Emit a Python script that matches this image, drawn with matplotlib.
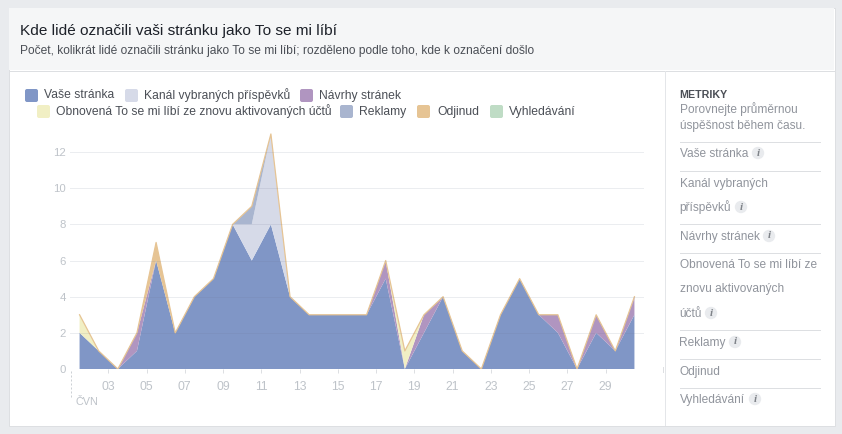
import matplotlib
matplotlib.use("Agg")
import matplotlib.pyplot as plt
from matplotlib.patches import Circle, FancyBboxPatch, Rectangle

plt.rcParams['font.family'] = ['Liberation Sans', 'DejaVu Sans']

# one value per day, points sit half way between the day ticks
days = [1.5, 2.5, 3.5, 4.5, 5.5, 6.5, 7.5, 8.5, 9.5, 10.5, 11.5, 12.5, 13.5, 14.5, 15.5,
        16.5, 17.5, 18.5, 19.5, 20.5, 21.5, 22.5, 23.5, 24.5, 25.5, 26.5, 27.5, 28.5, 29.5, 30.5]
vase = [2, 1, 0, 1, 6, 2, 4, 5, 8, 6, 8, 4, 3, 3, 3, 3, 5, 0, 2, 4, 1, 0, 3, 5, 3, 2, 0, 2, 1, 3]
kanal = [0, 0, 0, 0, 0, 0, 0, 0, 0, 2, 5, 0, 0, 0, 0, 0, 0, 0, 0, 0, 0, 0, 0, 0, 0, 0, 0, 0, 0, 0]
navrhy = [0, 0, 0, 1, 0, 0, 0, 0, 0, 0, 0, 0, 0, 0, 0, 0, 1, 0, 1, 0, 0, 0, 0, 0, 0, 1, 0, 1, 0, 1]
obnovena = [1, 0, 0, 0, 0, 0, 0, 0, 0, 0, 0, 0, 0, 0, 0, 0, 0, 1, 0, 0, 0, 0, 0, 0, 0, 0, 0, 0, 0, 0]
reklamy = [0, 0, 0, 0, 0, 0, 0, 0, 0, 1, 0, 0, 0, 0, 0, 0, 0, 0, 0, 0, 0, 0, 0, 0, 0, 0, 0, 0, 0, 0]
odjinud = [0, 0, 0, 0, 1, 0, 0, 0, 0, 0, 0, 0, 0, 0, 0, 0, 0, 0, 0, 0, 0, 0, 0, 0, 0, 0, 0, 0, 0, 0]
vyhledavani = [0] * 30

series = [vase, kanal, navrhy, obnovena, reklamy, odjinud, vyhledavani]
colors = ['#8096c6', '#d6dae8', '#b095c0', '#f1efc4', '#a9b5cf', '#e6c494', '#bfdcc5']
x_ticks = [3, 5, 7, 9, 11, 13, 15, 17, 19, 21, 23, 25, 27, 29]
x_labels = ['03', '05', '07', '09', '11', '13', '15', '17', '19', '21', '23', '25', '27', '29']
y_ticks = [0, 2, 4, 6, 8, 10, 12]

W, H = 842, 434
PX = 0.72  # one pixel in points at dpi 100
fig = plt.figure(figsize=(W / 100, H / 100), dpi=100, facecolor='#e9ebee')

# overlay in pixel coordinates for the card, header and side panel
bg = fig.add_axes([0, 0, 1, 1], zorder=0)
bg.set_xlim(0, W)
bg.set_ylim(H, 0)
bg.axis('off')
bg.add_patch(Rectangle((8.5, 7.5), 826, 418, fc='white', ec='#dddfe2', lw=PX))
bg.add_patch(Rectangle((9, 8), 825, 62, fc='#f5f6f7', ec='none'))
bg.plot([9, 834], [70.5, 70.5], color='#dddfe2', lw=PX)
bg.plot([664.5, 664.5], [71, 425], color='#e4e6e9', lw=PX)

bg.text(20.5, 35, 'Kde lidé označili vaši stránku jako To se mi líbí', fontsize=11.07, color='#1d2129')
bg.text(20.5, 54, 'Počet, kolikrát lidé označili stránku jako To se mi líbí; rozděleno podle toho, kde k označení došlo',
        fontsize=8.66, color='#4b4f56')

# legend, y is the square centre
legend_rows = [
    (95.5, [(25, 44, 'Vaše stránka', 0), (125, 144, 'Kanál vybraných příspěvků', 1), (300, 319, 'Návrhy stránek', 2)]),
    (111.5, [(37, 56, 'Obnovená To se mi líbí ze znovu aktivovaných účtů', 3), (340, 359, 'Reklamy', 4),
             (417, 437, 'Odjinud', 5), (490, 509, 'Vyhledávání', 6)]),
]
for y, items in legend_rows:
    for sx, tx, label, c in items:
        bg.add_patch(FancyBboxPatch((sx + 1.5, y - 5), 10, 10, boxstyle='round,pad=1.5,rounding_size=2',
                                    fc=colors[c], ec='none'))
        bg.text(tx, y + 3, label, fontsize=8.7, color='#4b4f56')

# side panel, y is the text baseline
bg.text(679.5, 98, 'METRIKY', fontsize=7.7, fontweight='bold', color='#4b4f56')
bg.text(679.5, 113, 'Porovnejte průměrnou', fontsize=8.6, color='#90949c')
bg.text(679.5, 129, 'úspěšnost během času.', fontsize=8.6, color='#90949c')
for y in [141, 170, 223, 252, 329, 358, 387]:
    bg.plot([680, 820], [y + 0.5, y + 0.5], color='#dddfe2', lw=PX)
side_labels = [(157, 'Vaše stránka', 758), (187, 'Kanál vybraných', None), (211, 'příspěvků', 741),
               (240, 'Návrhy stránek', 769), (268, 'Obnovená To se mi líbí ze', None), (292, 'znovu aktivovaných', None),
               (317, 'účtů', 711), (346, 'Reklamy', 735), (375, 'Odjinud', None), (403, 'Vyhledávání', 755)]
for y, label, ix in side_labels:
    bg.text(679.5, y, label, fontsize=8.6, color='#90949c')
    if ix is not None:
        bg.add_patch(Circle((ix, y - 4), 6.2, fc='#e9ebee', ec='none'))
        bg.text(ix, y - 4, 'i', fontsize=8, family='Liberation Serif', style='italic', fontweight='bold',
                color='#7f8389', ha='center', va='center')

# dashed start of the month and the stray end tick
bg.plot([70.5, 70.5], [371, 397], color='#ccd0d5', lw=PX, ls=(0, (2, 2)))
bg.plot([662.5, 662.5], [367, 372], color='#dddfe2', lw=PX)
bg.text(76, 405, 'ČVN', fontsize=7.8, color='#bec3c9')

# chart, 0 sits on pixel row 369, 18.08 px per unit
left, right, bottom, top = 70, 644, 369, 130
ax = fig.add_axes([left / W, 1 - bottom / H, (right - left) / W, (bottom - top) / H], zorder=1)
ax.patch.set_alpha(0)
ax.stackplot(days, *series, colors=colors, lw=0, zorder=2)
total = [sum(v) for v in zip(*series)]
ax.plot(days, total, color='#e6c494', lw=0.9, zorder=3)
ax.set_xlim(1, 31)
ax.set_ylim(0, (bottom - top) / 18.08)
for s in ax.spines.values():
    s.set_visible(False)
ax.set_xticks(x_ticks, x_labels)
ax.set_yticks(y_ticks)
ax.tick_params(axis='x', length=3, width=PX, color='#dddfe2', labelcolor='#bec3c9', labelsize=8.7, pad=6)
ax.tick_params(axis='y', length=0, labelcolor='#bec3c9', labelsize=8.2, pad=3)
for y in y_ticks:
    ax.axhline(y, color='#6a7590', alpha=0.13, lw=PX, zorder=4)

fig.savefig('out.png', dpi=100, facecolor=fig.get_facecolor())
